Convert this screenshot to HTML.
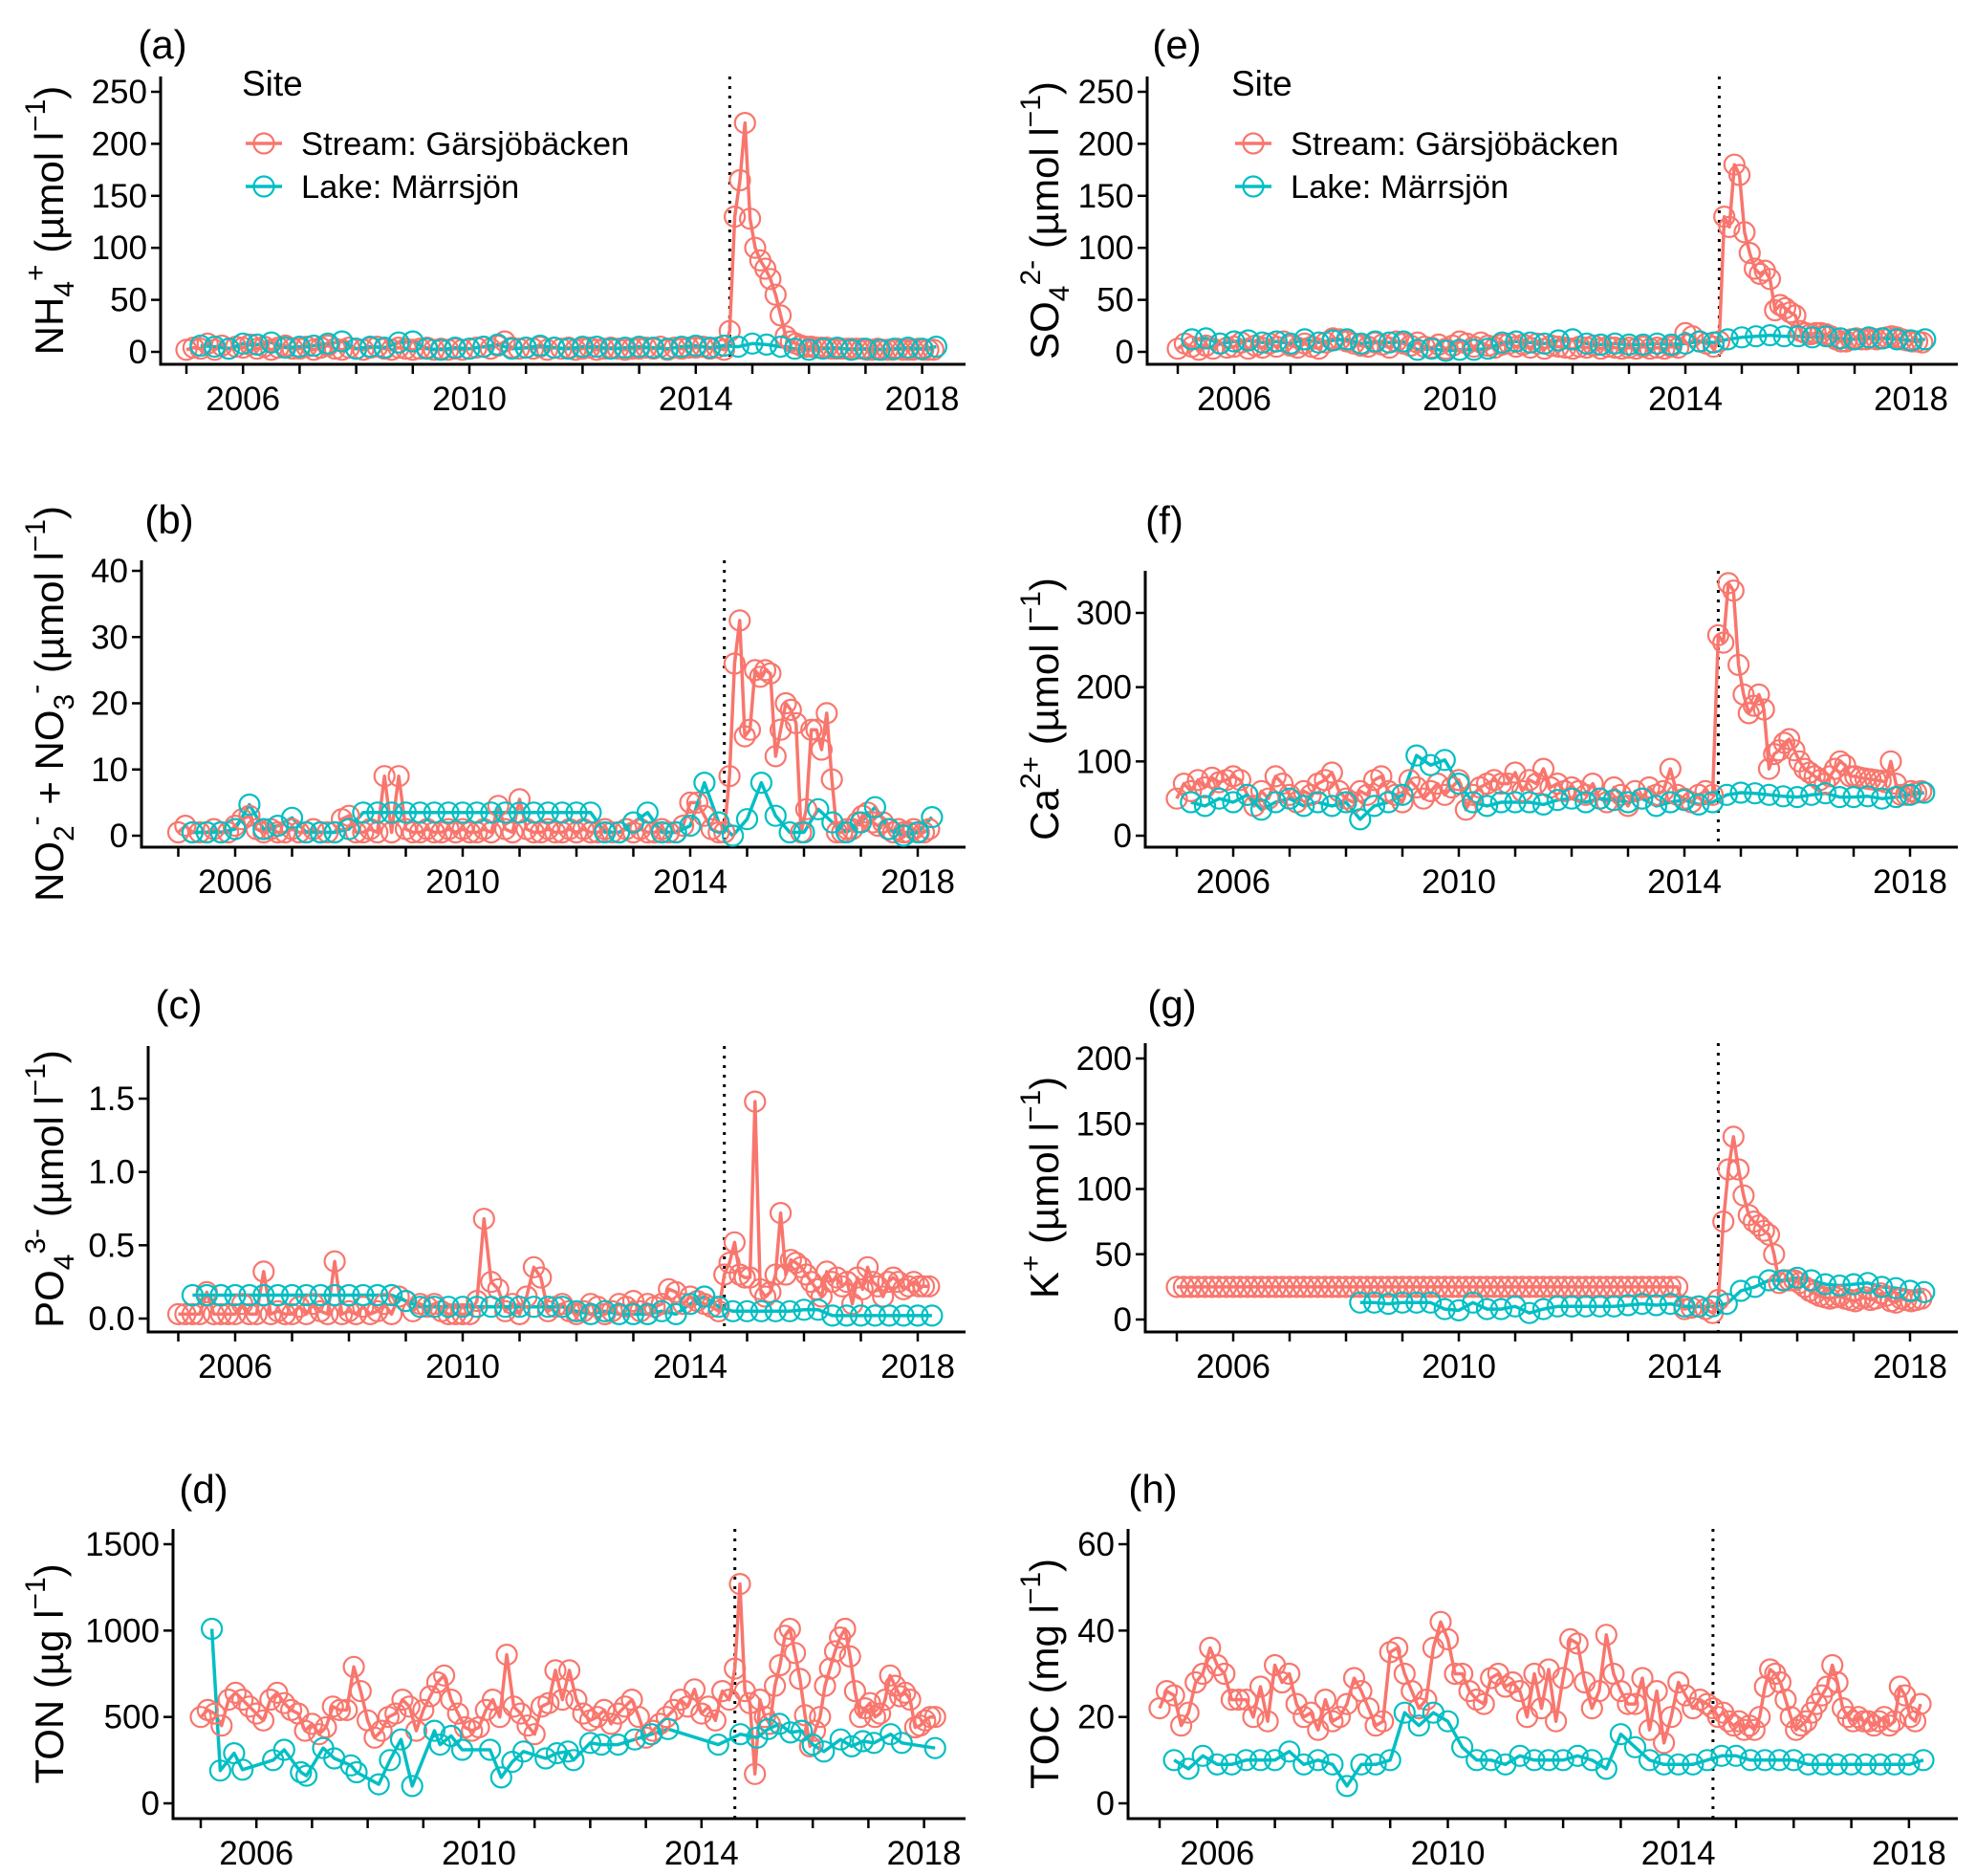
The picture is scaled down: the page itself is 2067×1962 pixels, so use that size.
<!DOCTYPE html>
<html><head><meta charset="utf-8"><title>Water chemistry time series</title>
<style>
html,body{margin:0;padding:0;background:#fff;}
svg{display:block;font-family:"Liberation Sans",Arial,sans-serif;}
</style></head>
<body>
<svg id="chart" xmlns="http://www.w3.org/2000/svg" width="2067" height="1962" viewBox="0 0 2067 1962">
<rect x="0" y="0" width="2067" height="1962" fill="#fff"/>
</svg>
<script>
// ---- data ----
const xTickYears = [2005,2006,2007,2008,2009,2010,2011,2012,2013,2014,2015,2016,2017,2018];
const xTickLabels = ["2006","2010","2014","2018"];
const eventYear = 2014.6;

const aStreamPre = [2,4,3,8,2,6,3,5, 4,7,3,5,2,4,6,3, 3,5,2,4,6,3,2,4, 3,2,4,5,3,2,4,3, 2,3,4,2,3,2,3,2, 3,4,5,3,6,10,4,3, 4,3,5,2,4,3,4,2, 3,4,2,3,4,3,2,3, 3,4,3,5,2,4,3,4, 4,5,3,4,2];
const aStreamPost = [20,130,165,220,128,100,88,80,70,55,35,15,10,8,6,5,5,4,4,4,3,3,3,3,3,3,3,2,2,3,2,2,2,3,2,2,2,3,2,2,2];
const aLake = [6,5,3,8, 7,9,4,5, 6,8,10,3, 5,4,9,10, 3,2,4,3, 5,7,3,4, 6,4,3,5, 5,3,4,5, 4,3,5,6, 4,6,5,8, 7,5,3,2, 3,4,2,3, 2,3,4,3, 5];

const bStreamPre = [0.5,1.5,0.5,0.5,0.5,1,0.5,0.5, 1.5,2.5,3,1,0.5,1,0.5,0.5, 1,0.5,0.5,1,0.5,0.5,0.5,2.5, 3,0.5,0.5,1,0.5,9,0.5,9, 1,0.5,0.5,1,0.5,0.5,1,0.5, 1,0.5,0.5,1,0.5,4.5,1,0.5, 5.5,1,0.5,0.5,1,0.5,0.5,1, 0.5,1,0.5,0.5,1,0.5,0.5,1, 0.5,1,0.5,0.5,1,0.5,0.5,1.5, 5,5,3,1,0.5];
const bStreamPost = [0.5,9,26,32.5,15,16,25,24,25,24.5, 12,16,20,19,17,0.5,4,16,16,13, 18.5,8.5,0.5,0.5,1,1,2,3,3.5,2, 1.5,2,1,0.5,1,0.5,0.5,1,0.5,0.5, 1];
const bLake = [0.5,0.5,0.5,1, 4.7,1,1.5,2.7, 0.5,0.5,0.5,1, 3.5,3.5,3.5,3.5, 3.5,3.5,3.5,3.5, 3.5,3.5,3.5,3.5, 3.5,3.5,3.5,3.5, 3.5,0.5,0.5,2, 3.5,0.5,0.5,1.5, 8,2,0,2.5, 8,3,0.5,0.5, 4,2,0.5,2, 4.3,1,0,0.5, 2.8];

const cStreamPre = [.03,.03,.03,.03,.18,.03,.03,.03, .03,.1,.03,.03,.32,.03,.05,.03, .03,.08,.03,.1,.05,.03,.39,.03, .05,.03,.08,.03,.05,.1,.03,.15, .12,.05,.1,.08,.1,.05,.03,.03, .03,.03,.12,.68,.25,.2,.05,.1, .03,.15,.35,.28,.05,.08,.1,.05, .03,.05,.1,.08,.03,.05,.1,.08, .12,.05,.1,.08,.1,.2,.18,.1, .15,.12,.1,.08,.05];
const cStreamPost = [.3,.38,.52,.3,.28,.28,1.48,.2,.15,.18, .3,.72,.3,.4,.38,.35,.3,.25,.2,.15, .32,.25,.28,.22,.25,.1,.28,.2,.35,.25, .22,.15,.25,.28,.25,.2,.22,.25,.22,.22, .22];
const cLake = [.16,.16,.16,.16, .16,.16,.16,.16, .16,.16,.16,.16, .16,.16,.16,.12, .08,.08,.08,.08, .08,.08,.08,.08, .08,.08,.08,.05, .03,.05,.03,.03, .03,.05,.03,.1, .15,.08,.05,.05, .05,.05,.05,.06, .06,.02,.02,.02, .02,.02,.02,.02, .02];

const dStreamPre = [500,540,520,450,600,640,600,560, 520,480,600,640,580,540,520,420, 460,400,440,560,540,540,790,650, 480,380,420,500,520,600,560,420, 540,620,700,740,600,520,440,420, 440,540,600,500,860,560,520,450, 400,560,580,770,600,770,600,520, 480,500,540,460,520,560,600,500, 380,420,460,500,540,600,560,660, 520,560,480,650,600];
const dStreamPost = [780,1270,650,580,170,600,500,460,680,800, 970,1010,870,720,510,330,420,500,680,780, 880,960,1010,850,650,500,550,580,500,520, 600,740,680,620,640,600,440,450,480,500, 500];
const dLakeDates = [2005.2,2005.35,2005.6,2005.75,2006.3,2006.5,2006.8,2006.9,2007.2,2007.4,2007.7,2007.8,2008.2,2008.4,2008.6,2008.8,2009.2,2009.3,2009.5,2009.7,2010.2,2010.4,2010.6,2010.8,2011.2,2011.4,2011.6,2011.7,2012.0,2012.2,2012.5,2012.8,2013.1,2013.4,2014.3,2014.7,2015.0,2015.2,2015.4,2015.6,2015.8,2016.0,2016.2,2016.5,2016.7,2016.9,2017.1,2017.4,2017.6,2018.2];
const dLakeVals = [1010,190,290,195,250,310,180,160,320,260,220,180,110,250,370,100,420,340,390,310,310,150,240,300,260,290,300,250,350,340,340,370,400,430,340,400,380,430,460,410,420,340,300,370,330,360,350,400,350,320];

const eStreamPre = [3,8,5,2,6,3,8,4, 5,9,3,6,4,8,5,10, 6,4,8,5,3,9,13,12, 10,8,6,5,9,7,4,10, 8,6,9,5,4,7,3,6, 10,8,5,9,6,4,7,8, 5,7,4,8,3,6,5,4, 3,5,4,6,3,5,4,3, 4,3,5,3,4,3,5,4, 18,15,10,8,5];
const eStreamPost = [10,130,120,180,170,115,95,80,75,78, 70,40,45,42,38,35,20,18,17,18, 18,17,15,12,10,10,12,13,12,12, 13,12,13,14,15,14,12,11,10,10, 9];
const eLake = [12,13,8,10, 11,9,10,8, 12,9,11,12, 8,10,9,10, 2,3,1,2, 2,3,9,10, 9,8,11,12, 8,7,8,7, 7,8,7,8, 10,9,12,14, 15,16,15,15, 14,15,13,12, 14,13,12,11, 12];

const fStreamPre = [50,70,60,75,65,78,72,75, 80,75,55,40,60,50,80,70, 55,45,60,55,70,75,85,60, 50,45,60,55,75,80,60,55, 45,75,65,50,60,70,55,65, 75,35,55,65,70,75,70,70, 85,60,75,70,90,65,70,60, 65,60,55,70,50,45,65,55, 40,60,50,65,55,60,90,55, 50,45,55,60,55];
const fStreamPost = [270,260,340,330,230,190,165,175,190,170, 90,110,115,125,130,115,100,90,85,80, 75,70,80,90,100,95,80,80,78,77, 76,75,74,72,100,70,55,55,60,58, 60];
const fLake = [45,40,50,45, 55,35,45,50, 40,45,40,45, 22,40,45,55, 108,95,102,70, 45,40,45,45, 45,42,48,50, 45,50,48,45, 50,40,45,48, 42,45,55,58, 57,55,53,52, 55,57,52,52, 53,50,52,55, 58];

const gStreamPre = [25,25,25,25,25,25,25,25, 25,25,25,25,25,25,25,25, 25,25,25,25,25,25,25,25, 25,25,25,25,25,25,25,25, 25,25,25,25,25,25,25,25, 25,25,25,25,25,25,25,25, 25,25,25,25,25,25,25,25, 25,25,25,25,25,25,25,25, 25,25,25,25,25,25,25,25, 8,9,10,8,5];
const gStreamPost = [15,75,115,140,115,95,80,75,72,68, 65,50,28,30,30,30,28,25,22,20, 18,17,16,17,18,16,15,14,16,17, 15,16,20,18,14,13,16,15,14,15, 16];
const gLake = [null,null,null,null, null,null,null,null, null,null,null,null, 13,13,12,13, 13,13,8,7, 13,8,8,10, 5,8,10,10, 10,10,10,11, 12,11,12,10, 10,10,12,22, 25,30,30,32, 30,27,26,27, 28,25,24,22, 21];

const hStreamPre = [22,26,25,18,21,28,30,36, 32,30,24,24,24,20,27,19, 32,28,30,23,20,21,17,24, 19,20,23,29,26,22,18,19, 35,36,30,26,22,24,36,42, 38,30,30,26,24,23,29,30, 27,28,26,20,30,22,31,19, 29,38,37,28,22,26,39,30, 26,23,23,29,17,26,14,20, 28,25,22,24,23];
const hStreamPost = [22,20,21,19,18,19,17,18,17,20, 27,31,30,28,24,20,17,18,19,21, 23,25,27,32,28,22,20,19,20,19, 19,18,19,20,18,19,27,25,20,19, 23];
const hLake = [10,8,11,9, 9,10,10,10, 12,9,10,9, 4,9,9,10, 21,18,21,19, 13,10,10,9, 11,10,10,10, 11,10,8,16, 13,10,9,9, 9,10,11,11, 10,10,10,10, 9,9,9,9, 9,9,9,9, 10];

// sampling dates (pre-event every 1/8 yr, post-event every 0.09 yr; lake quarterly)
const streamDates = [];
for (let i = 0; i <= 76; i++) streamDates.push(2005 + i / 8);
for (let j = 0; j <= 40; j++) streamDates.push(2014.6 + j * 0.09);
const lakeDates = [];
for (let i = 0; i <= 52; i++) lakeDates.push(2005.25 + i * 0.25);

const COL_S = "#F8766D", COL_L = "#00BFC4";
const NS = "http://www.w3.org/2000/svg";
const svg = document.getElementById("chart");

function mk(tag, attrs, parent) {
  const el = document.createElementNS(NS, tag);
  for (const k in attrs) el.setAttribute(k, attrs[k]);
  (parent || svg).appendChild(el);
  return el;
}

function titleText(parent, x, y, parts) {
  const t = mk("text", {x: x, y: y, "font-size": 42, "text-anchor": "middle", transform: "rotate(-90 " + x + " " + y + ")", fill: "#000"}, parent);
  
  
  let shift = 0;
  parts.forEach(p => {
    const ts = mk("tspan", {}, t);
    const target = p[1] === "sub" ? 11 : p[1] === "sup" ? -19 : 0;
    if (target - shift !== 0) ts.setAttribute("dy", target - shift);
    shift = target;
    if (p[1] !== "n") ts.setAttribute("font-size", 30);
    ts.textContent = p[0];
  });
}

function panel(cfg) {
  const g = mk("g", {});
  
  
  const X = t => cfg.x0 + (t - 2005) * cfg.pyr;
  const Y = v => cfg.y0 - v * (cfg.y0 - cfg.ytop) / cfg.vtop;

  const tag = mk("text", {x: cfg.tagX, y: cfg.tagY + 15, "font-size": 42, "text-anchor": "middle"}, g);
  
  
  tag.textContent = "(" + cfg.id + ")";

  const ya = mk("line", {x1: cfg.L, y1: cfg.top, x2: cfg.L, y2: cfg.bottom, stroke: "#000", "stroke-width": 3}, g);
  
  
  const xa = mk("line", {x1: cfg.L - 1.5, y1: cfg.bottom, x2: cfg.R, y2: cfg.bottom, stroke: "#000", "stroke-width": 3}, g);
  
  

  xTickYears.forEach(yr => {
    const tk = mk("line", {x1: X(yr), y1: cfg.bottom, x2: X(yr), y2: cfg.bottom + 10, stroke: "#000", "stroke-width": 2.5}, g);
    
    
  });
  xTickLabels.forEach(lb => {
    const tl = mk("text", {x: X(+lb), y: cfg.bottom + 48, "font-size": 35, "text-anchor": "middle"}, g);
    
    
    tl.textContent = lb;
  });
  cfg.yTicks.forEach((v, i) => {
    const tk = mk("line", {x1: cfg.L - 10, y1: Y(v), x2: cfg.L, y2: Y(v), stroke: "#000", "stroke-width": 2.5}, g);
    
    
    const tl = mk("text", {x: cfg.L - 14, y: Y(v) + 12, "font-size": 35, "text-anchor": "end"}, g);
    
    
    tl.textContent = cfg.yLabels[i];
  });
  titleText(g, cfg.titleX, (cfg.top + cfg.bottom) / 2, cfg.title);

  const ev = mk("line", {x1: X(eventYear), y1: cfg.top, x2: X(eventYear), y2: cfg.bottom, stroke: "#000", "stroke-width": 3, "stroke-dasharray": "3 7"}, g);
  
  

  const series = [
    {name: "stream", col: COL_S, d: cfg.sDates, v: cfg.sVals},
    {name: "lake", col: COL_L, d: cfg.lDates, v: cfg.lVals}
  ];
  series.forEach(s => {
    let pts = [];
    s.v.forEach((v, i) => { if (v !== null) pts.push(X(s.d[i]).toFixed(1) + "," + Y(v).toFixed(1)); });
    const pl = mk("polyline", {points: pts.join(" "), fill: "none", stroke: s.col, "stroke-width": 3.5, "stroke-linejoin": "round"}, g);
    
    
  });
  series.forEach(s => {
    s.v.forEach((v, i) => {
      if (v === null) return;
      const c = mk("circle", {cx: X(s.d[i]).toFixed(1), cy: Y(v).toFixed(1), r: 10.5, fill: "none", stroke: s.col, "stroke-width": 2.2}, g);
      
      
    });
  });
}

function legend(x) {
  const g = mk("g", {});
  
  
  const t = mk("text", {x: x, y: 100, "font-size": 37}, g);
  
  
  t.textContent = "Site";
  [["Stream: Gärsjöbäcken", COL_S, 150], ["Lake: Märrsjön", COL_L, 195]].forEach(e => {
    const eg = mk("g", {}, g);
    
    
    mk("line", {x1: x + 4, y1: e[2], x2: x + 42, y2: e[2], stroke: e[1], "stroke-width": 3.5}, eg);
    mk("circle", {cx: x + 23, cy: e[2], r: 10.5, fill: "none", stroke: e[1], "stroke-width": 2.2}, eg);
    const tx = mk("text", {x: x + 62, y: e[2] + 12, "font-size": 34.5}, eg);
    tx.textContent = e[0];
  });
}

const tNH4 = [["NH","n"],["4","sub"],["+","sup"],[" (µmol l","n"],["−1","sup"],[")","n"]];
const tNO = [["NO","n"],["2","sub"],["-","sup"],[" + NO","n"],["3","sub"],["-","sup"],["  (µmol l","n"],["−1","sup"],[")","n"]];
const tPO = [["PO","n"],["4","sub"],["3-","sup"],[" (µmol l","n"],["−1","sup"],[")","n"]];
const tTON = [["TON (µg l","n"],["−1","sup"],[")","n"]];
const tSO = [["SO","n"],["4","sub"],["2-","sup"],[" (µmol l","n"],["−1","sup"],[")","n"]];
const tCa = [["Ca","n"],["2+","sup"],[" (µmol l","n"],["−1","sup"],[")","n"]];
const tK = [["K","n"],["+","sup"],[" (µmol l","n"],["−1","sup"],[")","n"]];
const tTOC = [["TOC (mg l","n"],["−1","sup"],[")","n"]];

panel({id:"a", L:168, R:1010, x0:195, pyr:59.2, top:80, bottom:381, y0:368, ytop:96, vtop:250, yTicks:[0,50,100,150,200,250], yLabels:["0","50","100","150","200","250"], title:tNH4, titleX:66, tagX:170, tagY:46, sDates:streamDates, sVals:aStreamPre.concat(aStreamPost), lDates:lakeDates, lVals:aLake});
panel({id:"b", L:148, R:1010, x0:186.5, pyr:59.5, top:586, bottom:886, y0:874, ytop:597, vtop:40, yTicks:[0,10,20,30,40], yLabels:["0","10","20","30","40"], title:tNO, titleX:66, tagX:177, tagY:543, sDates:streamDates, sVals:bStreamPre.concat(bStreamPost), lDates:lakeDates, lVals:bLake});
panel({id:"c", L:155, R:1010, x0:186.5, pyr:59.5, top:1094, bottom:1393, y0:1379, ytop:1149, vtop:1.5, yTicks:[0,0.5,1,1.5], yLabels:["0.0","0.5","1.0","1.5"], title:tPO, titleX:66, tagX:187, tagY:1050, sDates:streamDates, sVals:cStreamPre.concat(cStreamPost), lDates:lakeDates, lVals:cLake});
panel({id:"d", L:181, R:1010, x0:210, pyr:58.2, top:1599, bottom:1902, y0:1886, ytop:1615, vtop:1500, yTicks:[0,500,1000,1500], yLabels:["0","500","1000","1500"], title:tTON, titleX:66, tagX:213, tagY:1557, sDates:streamDates, sVals:dStreamPre.concat(dStreamPost), lDates:dLakeDates, lVals:dLakeVals});
panel({id:"e", L:1200, R:2048, x0:1232, pyr:59, top:80, bottom:381, y0:368, ytop:96, vtop:250, yTicks:[0,50,100,150,200,250], yLabels:["0","50","100","150","200","250"], title:tSO, titleX:1107, tagX:1231, tagY:46, sDates:streamDates, sVals:eStreamPre.concat(eStreamPost), lDates:lakeDates, lVals:eLake});
panel({id:"f", L:1198, R:2048, x0:1231, pyr:59, top:597, bottom:886, y0:874, ytop:641, vtop:300, yTicks:[0,100,200,300], yLabels:["0","100","200","300"], title:tCa, titleX:1107, tagX:1218, tagY:544, sDates:streamDates, sVals:fStreamPre.concat(fStreamPost), lDates:lakeDates, lVals:fLake});
panel({id:"g", L:1198, R:2048, x0:1231, pyr:59, top:1091, bottom:1393, y0:1380, ytop:1107, vtop:200, yTicks:[0,50,100,150,200], yLabels:["0","50","100","150","200"], title:tK, titleX:1107, tagX:1226, tagY:1050, sDates:streamDates, sVals:gStreamPre.concat(gStreamPost), lDates:lakeDates, lVals:gLake});
panel({id:"h", L:1180, R:2048, x0:1213, pyr:60.3, top:1599, bottom:1902, y0:1886, ytop:1615, vtop:60, yTicks:[0,20,40,60], yLabels:["0","20","40","60"], title:tTOC, titleX:1107, tagX:1206, tagY:1557, sDates:streamDates, sVals:hStreamPre.concat(hStreamPost), lDates:lakeDates, lVals:hLake});

legend(253);
legend(1288);
</script>
</body></html>
